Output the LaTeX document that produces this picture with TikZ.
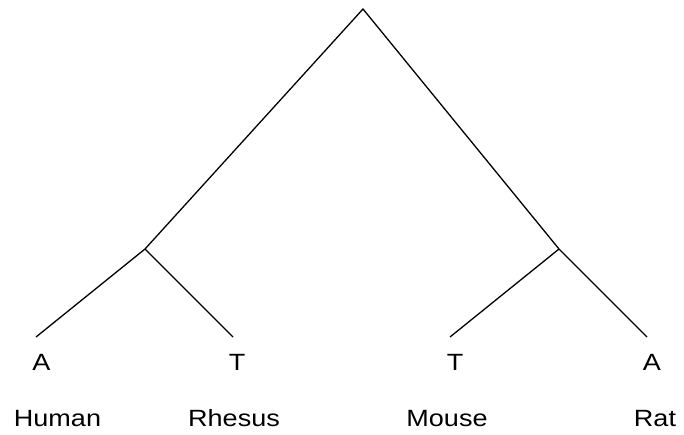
\documentclass[tikz,border=0pt]{standalone}
\usepackage{fontspec}
\setmainfont{Liberation Sans}[FakeStretch=1.15]
\begin{document}
\begin{tikzpicture}[x=1pt,y=-1pt,
  branch/.style={line width=1.3pt,black},
  lbl/.style={anchor=base,inner sep=0pt,font=\fontsize{23.5}{28}\selectfont}]
\useasboundingbox (0,0) rectangle (684,434);
\coordinate (root) at (363,9);
\coordinate (hr) at (145,249);
\coordinate (mr) at (559,249);
\coordinate (human) at (36,337);
\coordinate (rhesus) at (233,337);
\coordinate (mouse) at (450,337);
\coordinate (rat) at (647,337);
\draw[branch] (human) -- (hr) -- (root) -- (mr) -- (rat);
\draw[branch] (hr) -- (rhesus);
\draw[branch] (mr) -- (mouse);
\node[lbl] (bA1) at (41.5,370.5) {A};
\node[lbl] (bT1) at (237,370.5) {T};
\node[lbl] (bT2) at (455,370.5) {T};
\node[lbl] (bA2) at (652,370.5) {A};
\node[lbl] (nHuman) at (57.5,426) {Human};
\node[lbl] (nRhesus) at (234,426) {Rhesus};
\node[lbl] (nMouse) at (447,426) {Mouse};
\node[lbl] (nRat) at (655,426) {Rat};
\end{tikzpicture}
\end{document}
